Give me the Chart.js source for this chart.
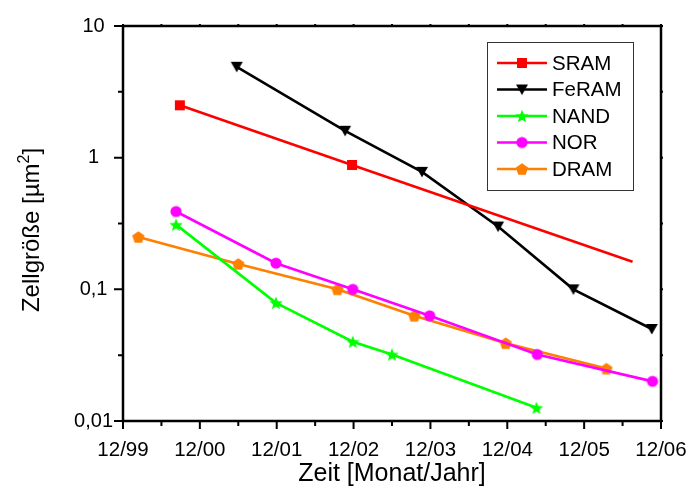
<!DOCTYPE html>
<html>
<head>
<meta charset="utf-8">
<script src="https://cdn.jsdelivr.net/npm/chart.js@4.4.0/dist/chart.umd.min.js"></script>
<style>
  html, body { margin: 0; padding: 0; background: #fff; }
  #chart { display: block; }
</style>
</head>
<body>
<canvas id="chart" width="691" height="487"></canvas>
<script>
// Memory cell size over time (x = years since 12/99)

const X_TICK_LABELS = ["12/99", "12/00", "12/01", "12/02", "12/03", "12/04", "12/05", "12/06"];
const Y_TICK_VALUES = [0.01, 0.1, 1, 10];
const Y_TICK_LABELS = ["0,01", "0,1", "1", "10"];

const SERIES_NAMES = ["SRAM", "FeRAM", "NAND", "NOR", "DRAM"];

const SRAM_X  = [0.74, 2.98, 6.63];
const SRAM_Y  = [2.5, 0.88, 0.162];

const FERAM_X = [1.48, 2.89, 3.89, 4.88, 5.86, 6.88];
const FERAM_Y = [4.9, 1.6, 0.78, 0.30, 0.10, 0.05];

const NAND_X  = [0.69, 1.99, 2.99, 3.50, 5.38];
const NAND_Y  = [0.31, 0.079, 0.040, 0.032, 0.0126];

const NOR_X   = [0.69, 1.99, 2.99, 3.99, 5.39, 6.89];
const NOR_Y   = [0.39, 0.158, 0.10, 0.063, 0.032, 0.020];

const DRAM_X  = [0.20, 1.50, 2.79, 3.79, 4.98, 6.29];
const DRAM_Y  = [0.25, 0.156, 0.10, 0.063, 0.039, 0.025];

const FONT = "'Liberation Sans', Arial, sans-serif";

// ── Marker images ────────────────────────────────────────
function makeMarker(shape, color) {
  const c = document.createElement("canvas");
  c.width = 18; c.height = 18;
  const g = c.getContext("2d");
  g.fillStyle = color;
  g.beginPath();
  const cx = 9, cy = 9;
  if (shape === "square") {
    g.rect(cx - 5, cy - 5, 10, 10);
  } else if (shape === "triDown") {
    g.moveTo(cx - 6, cy - 5);
    g.lineTo(cx + 6, cy - 5);
    g.lineTo(cx, cy + 5.5);
  } else if (shape === "circle") {
    g.arc(cx, cy, 5.6, 0, Math.PI * 2);
  } else if (shape === "star") {
    for (let i = 0; i < 10; i++) {
      const r = i % 2 === 0 ? 7 : 3;
      const a = -Math.PI / 2 + i * Math.PI / 5;
      const px = cx + r * Math.cos(a), py = cy + 0.7 + r * Math.sin(a);
      if (i === 0) g.moveTo(px, py); else g.lineTo(px, py);
    }
  } else if (shape === "pentagon") {
    for (let i = 0; i < 5; i++) {
      const a = -Math.PI / 2 + i * 2 * Math.PI / 5;
      const px = cx + 6.4 * Math.cos(a), py = cy + 0.6 + 6.4 * Math.sin(a);
      if (i === 0) g.moveTo(px, py); else g.lineTo(px, py);
    }
  }
  g.closePath();
  g.fill();
  return c;
}

const COLORS  = ["#ff0000", "#000000", "#00ff00", "#ff00ff", "#ff8000"];
const MARKERS = [
  makeMarker("square",   COLORS[0]),
  makeMarker("triDown",  COLORS[1]),
  makeMarker("star",     COLORS[2]),
  makeMarker("circle",   COLORS[3]),
  makeMarker("pentagon", COLORS[4])
];

function toPoints(xs, ys) {
  return xs.map((x, i) => ({ x: x, y: ys[i] }));
}

const seriesData = [
  toPoints(SRAM_X, SRAM_Y),
  toPoints(FERAM_X, FERAM_Y),
  toPoints(NAND_X, NAND_Y),
  toPoints(NOR_X, NOR_Y),
  toPoints(DRAM_X, DRAM_Y)
];

const datasets = SERIES_NAMES.map((name, i) => ({
  label:           name,
  data:            seriesData[i],
  borderColor:     COLORS[i],
  backgroundColor: COLORS[i],
  borderWidth:     2.6,
  pointStyle:      MARKERS[i],
  // SRAM's last point is the end of a trend line, no marker
  pointRadius:     i === 0 ? [5, 5, 0] : 5,
  tension:         0,
  fill:            false
}));

// ── Frame and tick marks ─────────────────────────────────
const framePlugin = {
  id: "frame",
  afterDraw(chart) {
    const { ctx, chartArea: a, scales } = chart;
    const xs = scales.x, ys = scales.y;
    ctx.save();
    ctx.strokeStyle = "#000";
    ctx.lineWidth = 2.5;
    ctx.strokeRect(a.left, a.top, a.right - a.left, a.bottom - a.top);

    ctx.lineWidth = 2;
    ctx.beginPath();
    for (let i = 0; i < X_TICK_LABELS.length; i++) {
      [i, i + 0.5].forEach((v, k) => {
        if (v > X_TICK_LABELS.length - 1) return;
        const px = xs.getPixelForValue(v);
        const len = k === 0 ? 8 : 5;
        ctx.moveTo(px, a.bottom); ctx.lineTo(px, a.bottom + len);
        ctx.moveTo(px, a.top);    ctx.lineTo(px, a.top - 2);
      });
    }
    Y_TICK_VALUES.forEach((v, i) => {
      const vals = [v];
      if (i < Y_TICK_VALUES.length - 1) vals.push(v * Math.sqrt(10));
      vals.forEach((val, k) => {
        const py = ys.getPixelForValue(val);
        const len = k === 0 ? 9 : 5;
        ctx.moveTo(a.left, py);  ctx.lineTo(a.left - len, py);
        ctx.moveTo(a.right, py); ctx.lineTo(a.right + 2, py);
      });
    });
    ctx.stroke();
    ctx.restore();
  }
};

// ── Legend box inside plot ───────────────────────────────
const legendPlugin = {
  id: "boxLegend",
  afterDraw(chart) {
    const { ctx } = chart;
    ctx.save();
    ctx.strokeStyle = "#333";
    ctx.lineWidth = 1;
    ctx.strokeRect(487.5, 42.5, 146, 148);
    ctx.font = "20.5px " + FONT;
    ctx.textBaseline = "middle";
    ctx.textAlign = "left";
    SERIES_NAMES.forEach((name, i) => {
      const y = 63 + i * 26.5;
      ctx.strokeStyle = COLORS[i];
      ctx.lineWidth = 2.6;
      ctx.beginPath();
      ctx.moveTo(497, y); ctx.lineTo(547, y);
      ctx.stroke();
      const m = MARKERS[i];
      ctx.drawImage(m, 522 - m.width / 2, y - m.height / 2);
      ctx.fillStyle = "#000";
      ctx.fillText(name, 552, y + 1);
    });
    ctx.restore();
  }
};

// ── Y title with superscript ─────────────────────────────
const yTitlePlugin = {
  id: "yTitle",
  afterDraw(chart) {
    const { ctx } = chart;
    const main = "Zellgröße [µm", sup = "2", tail = "]";
    ctx.save();
    ctx.fillStyle = "#000";
    ctx.textBaseline = "alphabetic";
    ctx.textAlign = "left";
    ctx.font = "24px " + FONT;
    const w1 = ctx.measureText(main).width;
    const w3 = ctx.measureText(tail).width;
    ctx.font = "16px " + FONT;
    const w2 = ctx.measureText(sup).width;
    const total = w1 + w2 + w3;
    ctx.translate(39, 230);
    ctx.rotate(-Math.PI / 2);
    let x = -total / 2;
    ctx.font = "24px " + FONT;
    ctx.fillText(main, x, 0);
    x += w1;
    ctx.font = "16px " + FONT;
    ctx.fillText(sup, x, -10);
    x += w2;
    ctx.font = "24px " + FONT;
    ctx.fillText(tail, x, 0);
    ctx.restore();
  }
};

new Chart(document.getElementById("chart").getContext("2d"), {
  type: "line",
  data: { datasets: datasets },
  options: {
    responsive: false,
    animation: false,
    devicePixelRatio: 1,
    layout: { padding: { top: 26, right: 30, left: 0, bottom: 0 } },
    plugins: {
      legend:  { display: false },
      tooltip: { enabled: false }
    },
    scales: {
      x: {
        type: "linear",
        min: 0,
        max: 7,
        grid:   { display: false, drawTicks: false },
        border: { display: false },
        afterBuildTicks: s => { s.ticks = X_TICK_LABELS.map((_, i) => ({ value: i })); },
        afterFit: s => { s.height = 66; s.paddingLeft = 0; s.paddingRight = 0; },
        ticks: {
          autoSkip: false,
          maxRotation: 0,
          padding: 17,
          color: "#000",
          font: { family: FONT, size: 20.5 },
          callback: (v, i) => X_TICK_LABELS[i]
        },
        title: {
          display: true,
          text: "Zeit [Monat/Jahr]",
          color: "#000",
          font: { family: FONT, size: 25, lineHeight: 1 },
          padding: { top: 0, bottom: 0 }
        }
      },
      y: {
        type: "logarithmic",
        min: 0.01,
        max: 10,
        grid:   { display: false, drawTicks: false },
        border: { display: false },
        afterBuildTicks: s => { s.ticks = Y_TICK_VALUES.map(v => ({ value: v })); },
        afterFit: s => { s.width = 123; s.paddingTop = 0; s.paddingBottom = 0; },
        ticks: {
          autoSkip: false,
          crossAlign: "center",
          padding: 10,
          color: "#000",
          font: { family: FONT, size: 20 },
          callback: (v, i) => Y_TICK_LABELS[i]
        }
      }
    }
  },
  plugins: [framePlugin, legendPlugin, yTitlePlugin]
});
</script>
</body>
</html>
